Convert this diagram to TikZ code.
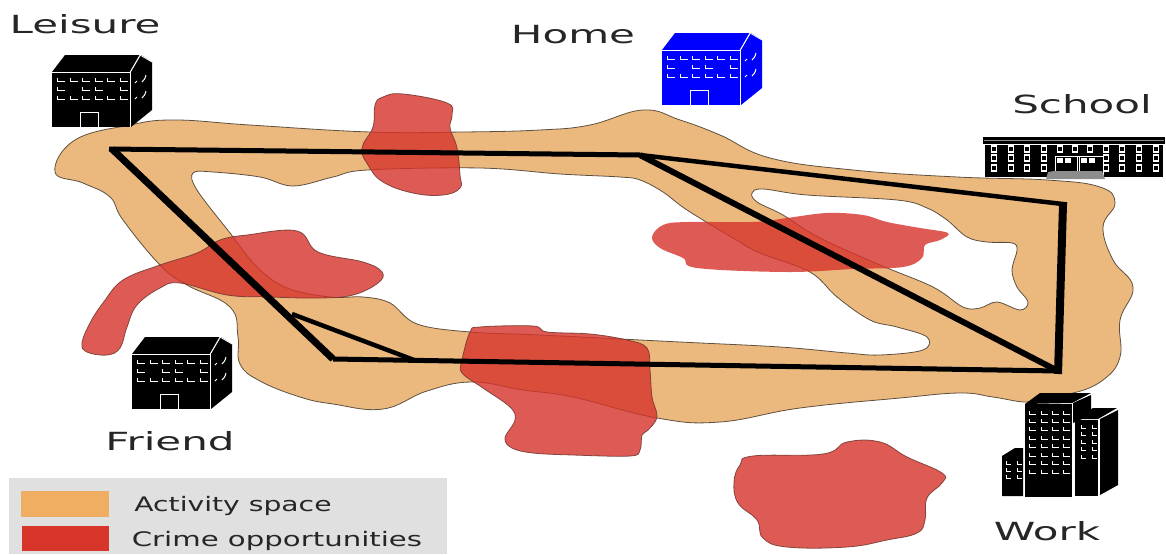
\documentclass[tikz,border=0pt]{standalone}
\usepackage{fontspec}
\usepackage{graphicx}
\setmainfont{DejaVu Sans}
\definecolor{actfill}{HTML}{EBB97E}
\definecolor{legorange}{HTML}{EFAE62}
\definecolor{legred}{HTML}{D8352A}
\definecolor{crimefill}{HTML}{D6322A}
\definecolor{legbg}{HTML}{E0E0E0}
\definecolor{edgecol}{HTML}{5E5040}
\definecolor{crimeedge}{HTML}{7A3A34}
\newcommand{\biglabel}[1]{\fontsize{25}{30}\selectfont\scalebox{1.68}[1]{#1}}
\newcommand{\leglabel}[2]{\fontsize{20}{24}\selectfont\scalebox{#1}[1]{#2}}
\tikzset{
  x=1pt,y=-1pt,
  activity/.style={fill=actfill,draw=edgecol,line width=0.8pt,even odd rule},
  crime/.style={fill=crimefill,fill opacity=0.8,draw=crimeedge,draw opacity=0.9,line width=0.8pt},
  crimesoft/.style={fill=crimefill,fill opacity=0.8,draw=none},
  route/.style={draw=black,line join=miter,line cap=butt},
  biglab/.style={anchor=base,inner sep=0pt,text=black!85},
  leglab/.style={anchor=base,inner sep=0pt,text=black!85},
  windowmark/.style={draw=white,line width=1pt},
  house/.pic={
    \fill[#1] (0,0) -- (13,-17) -- (88,-17) -- (78,0) -- cycle;
    \fill[#1] (0,1) rectangle (78,55);
    \fill[#1] (79,0) -- (89,-17) -- (100,-10) -- (100,38) -- (79,55) -- cycle;
    \draw[white,line width=0.8pt] (0,0.3) -- (78,0.3) -- (78,55);
    \draw[white,line width=0.8pt] (78,0.3) -- (88,-17) -- (100,-10);
    \draw[white,line width=0.8pt] (28,55) -- (28,40) -- (46,40) -- (46,55);
    \foreach \wy in {6,24}{\foreach \wx in {5,18,30,43,55,68}{
      \draw[windowmark] (\wx,\wy) -- (\wx,\wy+3.5) -- (\wx+7.5,\wy+3.5);}}
    \foreach \wx in {5,30,43,68}{
      \draw[windowmark] (\wx,15) -- (\wx,18.5) -- (\wx+7.5,18.5);}
    \draw[windowmark] (83,11) -- (85,9) (90,10) .. controls (92,8) and (93,7) .. (94,3);
    \draw[windowmark] (83,27) -- (85,25) (90,26) .. controls (92,24) and (93,23) .. (94,19);
  },
}
\begin{document}
\begin{tikzpicture}
\useasboundingbox (0,0) rectangle (1166,554);
% legend
\fill[legbg] (9,478) rectangle (447,554);
\fill[legorange] (21,491) rectangle (109,517);
\fill[legred] (22,526) rectangle (109,551);
\node[leglab] (legA) at (233,511) {\leglabel{1.41}{Activity space}};
\node[leglab] (legC) at (277,546) {\leglabel{1.46}{Crime opportunities}};
% activity space
\path[activity]
 plot[smooth cycle,tension=0.7] coordinates {(55,172)(75,140)(130,125)(175,120)(250,125)(370,132)(463,132)(540,130)(590,125)(643,110)(680,120)(720,135)(770,158)(853,170)(957,177)(1047,180)(1100,187)(1115,203)(1103,227)(1113,260)(1133,287)(1120,320)(1120,357)(1103,380)(1073,393)(1040,395)(1027,402)(993,397)(960,393)(900,398)(800,408)(720,422)(657,418)(573,397)(523,390)(472,382)(427,391)(383,409)(333,404)(300,397)(260,381)(240,364)(238,337)(230,307)(187,285)(160,265)(123,220)(110,197)(83,183)}
 plot[smooth cycle,tension=0.6] coordinates {(193,173)(213,172)(260,177)(293,186)(333,177)(367,170)(480,168)(560,174)(620,177)(640,180)(663,192)(687,210)(733,238)(760,253)(810,272)(837,297)(870,320)(897,327)(927,337)(923,350)(880,355)(847,353)(780,347)(680,342)(540,335)(470,332)(417,324)(390,303)(363,297)(330,297)(287,288)(257,267)(230,233)(197,190)}
 plot[smooth cycle,tension=0.6] coordinates {(752,193)(763,189)(807,195)(897,200)(927,208)(947,220)(967,237)(987,242)(1012,243)(1017,250)(1012,270)(1017,287)(1028,302)(1020,310)(997,302)(980,308)(963,307)(933,287)(880,265)(820,238)(783,215)(757,202)};
% crime patches
\path[crime] plot[smooth cycle,tension=0.7] coordinates {(375,105)(383,97)(403,94)(447,103)(452,115)(450,128)(457,148)(460,175)(460,188)(443,195)(413,193)(383,182)(368,165)(362,148)(373,127)};
\path[crimesoft] plot[smooth cycle,tension=0.6] coordinates {(652,237)(663,225)(687,222)(753,222)(787,218)(827,213)(863,215)(887,222)(920,228)(948,233)(940,240)(925,245)(922,258)(903,267)(853,269)(787,272)(697,268)(683,258)(660,248)};
\path[crime] plot[smooth cycle,tension=0.65] coordinates {(82,343)(90,323)(103,303)(123,280)(160,265)(197,253)(220,240)(247,235)(297,231)(318,252)(363,262)(382,272)(378,283)(353,295)(320,298)(270,297)(227,295)(180,283)(160,288)(137,305)(127,327)(120,348)(107,355)(87,352)};
\path[crime] plot[smooth cycle,tension=0.6] coordinates {(470,332)(480,327)(533,326)(547,332)(590,334)(627,340)(647,348)(650,370)(652,397)(657,417)(648,430)(642,435)(640,450)(630,456)(573,455)(533,453)(512,448)(505,438)(515,420)(510,407)(483,388)(462,373)(462,360)};
\path[crime] plot[smooth cycle,tension=0.7] coordinates {(734,482)(740,465)(753,456)(823,454)(847,442)(880,442)(907,457)(942,473)(942,483)(927,498)(925,520)(917,533)(887,540)(847,547)(787,547)(763,538)(757,520)(738,503)};
% routes
\coordinate (leisure) at (112,149);
\coordinate (home) at (640,155);
\coordinate (school) at (1063,204);
\coordinate (work) at (1058,371);
\coordinate (corner) at (333,359);
\coordinate (friend) at (292,314);
\coordinate (junction) at (414,360);
\draw[route,line width=5pt] ([xshift=-3pt]leisure) -- (home);
\draw[route,line width=7pt] (leisure) -- (corner);
\draw[route,line width=5pt] (corner) -- (work);
\draw[route,line width=4.5pt] (home) -- ([xshift=4pt,yshift=-0.5pt]school);
\draw[route,line width=6pt] (home) -- (work);
\draw[route,line width=8pt] (school) -- ([yshift=-3pt]work);
\draw[route,line width=4.5pt] (friend) -- (junction);
% buildings
\pic (leisurebldg) at (52,72) {house=black};
\pic (homebldg) at (662,50) {house={blue}};
\pic (friendbldg) at (132,354) {house=black};
% school
\fill[black] (985,145) rectangle (1163,177);
\fill[black] (983,137) rectangle (1165,143.5);
\draw[black!45,line width=0.6pt] (984,140) -- (1164,140);
\foreach \sx in {994,1011,1027,1044,1060,1075,1090,1106,1122,1139,1156}{
  \foreach \sy in {149,158,168}{
    \ifnum\sx>1059 \ifnum\sx<1091 \ifnum\sy>150 \else
      \draw[white,line width=1.1pt] (\sx-2.5,\sy-3) rectangle (\sx+2.5,\sy+3);
    \fi\else
      \draw[white,line width=1.1pt] (\sx-2.5,\sy-3) rectangle (\sx+2.5,\sy+3);
    \fi\else
      \draw[white,line width=1.1pt] (\sx-2.5,\sy-3) rectangle (\sx+2.5,\sy+3);
    \fi
  }}
\draw[white,line width=0.8pt] (1055,176) -- (1055,156) -- (1103,156) -- (1103,176) (1077,156) -- (1077,176) (1079,156) -- (1079,176);
\foreach \sx in {1060,1068,1084,1092}{\fill[white] (\sx-3,157.5) rectangle (\sx+3,163);}
\fill[black!45] (1048,172) -- (1054,171) -- (1102,171) -- (1105,179) -- (1046,179) -- cycle;
% work
\fill[black] (1025,404) -- (1040,393) -- (1091,393) -- (1072,403) -- cycle;
\fill[black] (1025,404) rectangle (1072,497);
\fill[black] (1073,403) -- (1091,395) -- (1091,415) -- (1073,423) -- cycle;
\fill[black] (1075,419) -- (1093,408) -- (1117,408) -- (1098,419) -- cycle;
\fill[black] (1075,420) rectangle (1098,496);
\fill[black] (1100,419) -- (1118,410) -- (1118,485) -- (1100,495) -- cycle;
\fill[black] (1002,456) -- (1015,448) -- (1023,448) -- (1023,496) -- (1002,496) -- cycle;
\foreach \wy in {413,421,429,438,446,455,463,472}{\foreach \wx in {1029,1041,1052,1063}{
  \draw[windowmark] (\wx,\wy-2) -- (\wx,\wy+1) -- (\wx+6.5,\wy+1);}}
\foreach \wy in {427,434,442,449,457}{\foreach \wx in {1081,1092}{
  \draw[windowmark,line width=0.9pt] (\wx,\wy-2) -- (\wx,\wy+1) -- (\wx+5,\wy+1);}}
\foreach \wy in {463,470,477}{\foreach \wx in {1006,1017}{
  \draw[windowmark,line width=0.8pt] (\wx,\wy-2) -- (\wx,\wy+1) -- (\wx+4.5,\wy+1);}}
% labels
\node[biglab] (lblLeisure) at (85,33) {\biglabel{Leisure}};
\node[biglab] (lblHome) at (573,43) {\biglabel{Home}};
\node[biglab] (lblSchool) at (1082,113) {\biglabel{School}};
\node[biglab] (lblFriend) at (170,450) {\biglabel{Friend}};
\node[biglab] (lblWork) at (1047,540) {\biglabel{Work}};
\end{tikzpicture}
\end{document}
